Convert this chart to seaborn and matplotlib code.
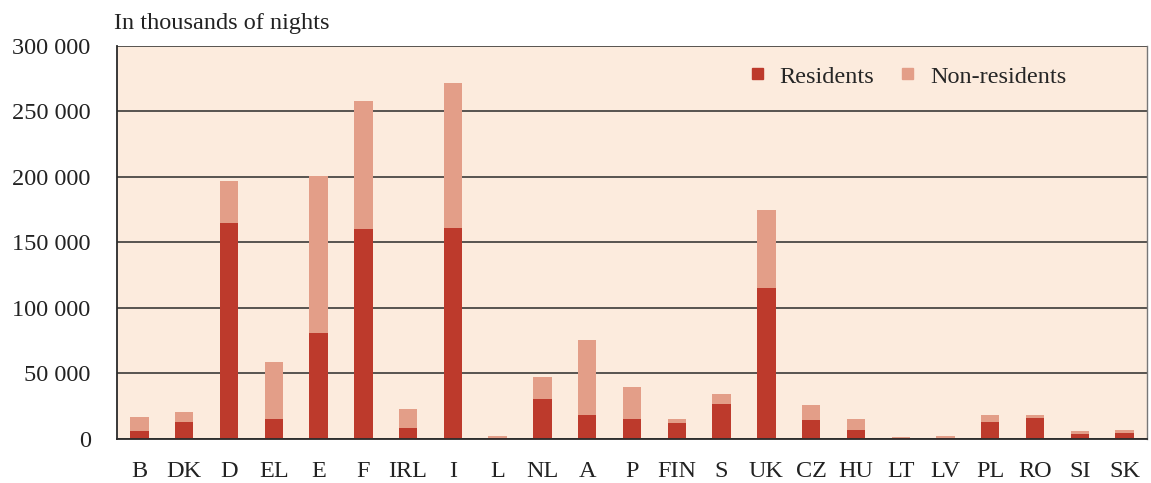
import numpy as np
import pandas as pd
import matplotlib
matplotlib.use("Agg")
import matplotlib.pyplot as plt
import seaborn as sns
from matplotlib.ticker import FuncFormatter, FixedLocator
from matplotlib.patches import Patch

countries = ["B", "DK", "D", "EL", "E", "F", "IRL", "I", "L", "NL", "A", "P",
             "FIN", "S", "UK", "CZ", "HU", "LT", "LV", "PL", "RO", "SI", "SK"]
residents = [6000, 13000, 165000, 15500, 81000, 160000, 8600, 161000, 1000, 30500,
             18300, 15300, 12400, 26700, 115000, 14200, 6600, 500, 500, 13000,
             16300, 3600, 4800]
total = [17000, 20600, 197000, 58800, 201000, 258000, 23000, 272000, 2500, 47500,
         75600, 40000, 15000, 34400, 175000, 26000, 15300, 1500, 2000, 18300,
         18300, 6000, 7000]

df = pd.DataFrame({"country": countries, "Residents": residents, "Total": total})

dark = "#bd3a2c"; light = "#e39e88"; bg = "#fcebdd"
sns.set_style("white")
plt.rcParams["font.family"] = ["Liberation Serif", "DejaVu Serif"]

fig = plt.figure(figsize=(11.51, 4.83), dpi=100)
ax = fig.add_axes([0.1017, 0.0911, 0.8948, 0.8137])
ax.set_facecolor(bg)

# stacked: draw totals (light) first, residents (dark) on top
sns.barplot(data=df, x="country", y="Total", color=light, width=0.41, saturation=1,
            linewidth=0, ax=ax)
sns.barplot(data=df, x="country", y="Residents", color=dark, width=0.41, saturation=1,
            linewidth=0, ax=ax)

ax.set_xlim(-0.5, len(countries) - 0.5)
ax.set_ylim(0, 300000)
ax.set_yticks(np.arange(0, 300001, 50000))
ax.yaxis.set_major_formatter(FuncFormatter(lambda v, p: f"{int(v):,}".replace(",", " ")))
ax.grid(axis="y", color="#2a2a2a", linewidth=1.1)
ax.set_axisbelow(True)
ax.xaxis.set_minor_locator(FixedLocator(np.arange(-0.5, len(countries), 1)))
ax.tick_params(axis="x", which="major", length=0, labelsize=17.5, pad=16, colors="#222222")
ax.tick_params(axis="x", which="minor", length=7, width=1.1, color="#2a2a2a", direction="out")
ax.tick_params(axis="y", length=7, width=1.1, color="#2a2a2a", labelsize=17.5, colors="#222222", pad=12)
ax.set_xlabel(""); ax.set_ylabel("")

for s in ["left", "bottom"]:
    ax.spines[s].set_color("#2a2a2a"); ax.spines[s].set_linewidth(1.3)
ax.spines["top"].set_visible(False)
ax.spines["right"].set_color("#777777"); ax.spines["right"].set_linewidth(1)

fig.text(0.099, 0.94, "In thousands of nights", fontsize=17.5, color="#222222")

handles = [Patch(color=dark, label="Residents"), Patch(color=light, label="Non-residents")]
ax.legend(handles=handles, loc="center right", bbox_to_anchor=(0.922, 0.921), ncol=2, frameon=False,
          fontsize=17.5, handlelength=0.45, handleheight=0.3, handletextpad=0.7,
          columnspacing=1.15, borderpad=0, borderaxespad=0)

fig.savefig("out.png", dpi=100, facecolor="white")
